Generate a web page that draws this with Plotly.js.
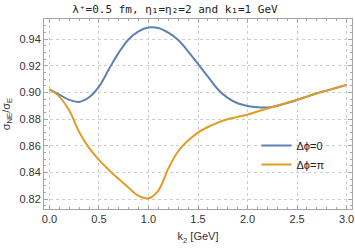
<!DOCTYPE html>
<html>
<head>
<meta charset="utf-8">
<script src="https://cdn.plot.ly/plotly-3.0.1.min.js"></script>
<style>html,body{margin:0;padding:0;background:#fff;}#chart{width:355px;height:249px;}</style>
</head>
<body>
<div id="chart"></div>
<script>
const k2 = [0.0,0.1,0.2,0.3,0.4,0.5,0.6,0.7,0.8,0.9,1.0,1.1,1.2,1.3,1.4,1.5,1.6,1.7,1.8,1.9,2.0,2.1,2.2,2.3,2.4,2.5,2.6,2.7,2.8,2.9,3.0];
const ratioPhi0 = [0.9025,0.8985,0.8945,0.8930,0.8965,0.9045,0.9175,0.9300,0.9400,0.9460,0.9488,0.9485,0.9450,0.9395,0.9310,0.9215,0.9120,0.9025,0.8960,0.8920,0.8900,0.8890,0.8888,0.8900,0.8922,0.8945,0.8970,0.8995,0.9015,0.9037,0.9058];
const ratioPhiPi = [0.9025,0.8970,0.8865,0.8705,0.8585,0.8495,0.8420,0.8352,0.8287,0.8225,0.8207,0.8265,0.8430,0.8560,0.8640,0.8700,0.8742,0.8775,0.8800,0.8818,0.8835,0.8858,0.8880,0.8903,0.8925,0.8947,0.8970,0.8995,0.9015,0.9037,0.9058];
const seriesNames = ['Δϕ=0','Δϕ=π'];
const xTicks = [0.0,0.5,1.0,1.5,2.0,2.5,3.0];
const yTicks = [0.82,0.84,0.86,0.88,0.90,0.92,0.94];

const colors = ['#5E81B5','#E19C24'];
const traces = [ratioPhi0, ratioPhiPi].map((y,i)=>({
  x: k2, y: y, type:'scatter', mode:'lines', name: seriesNames[i],
  line:{color:colors[i], width:2, shape:'spline', smoothing:1}
}));

const axisCommon = {
  showline:true, linecolor:'#a6a6a6', linewidth:1, mirror:'ticks',
  ticks:'inside', ticklen:4, tickcolor:'#a6a6a6', tickwidth:1,
  showgrid:true, gridcolor:'#cfcfcf', griddash:'dot', gridwidth:1,
  zeroline:false, tickfont:{family:'Liberation Sans, Arial, sans-serif', size:11, color:'#333'}
};

const layout = {
  width:355, height:249,
  margin:{l:44, r:3, t:19, b:40},
  paper_bgcolor:'#fff', plot_bgcolor:'#fff',
  showlegend:true,
  title:{text:'λ⁺=0.5 fm, η₁=η₂=2 and k₁=1 GeV', font:{family:'DejaVu Sans Mono, monospace', size:11, color:'#222'}, x:0.493, xanchor:'center', y:0.965, yanchor:'middle', yref:'container'},
  xaxis:Object.assign({}, axisCommon, {
    range:[-0.055,3.055], tickvals:xTicks, ticktext:xTicks.map(v=>v.toFixed(1)),
    minor:{dtick:0.1, tick0:0, ticks:'inside', ticklen:2, tickcolor:'#a6a6a6', showgrid:false},
    title:{text:'k<sub>2</sub> [GeV]', font:{family:'Liberation Sans, Arial, sans-serif', size:11, color:'#333'}, standoff:8}
  }),
  yaxis:Object.assign({}, axisCommon, {
    range:[0.8127,0.9552], tickvals:yTicks, ticktext:yTicks.map(v=>v.toFixed(2)),
    minor:{dtick:0.005, tick0:0.8, ticks:'inside', ticklen:2, tickcolor:'#a6a6a6', showgrid:false},
    title:{text:'σ<sub>NE</sub>/σ<sub>E</sub>', font:{family:'Liberation Sans, Arial, sans-serif', size:11, color:'#333'}, standoff:6}
  }),
  legend:{x:0.69, xanchor:'left', y:0.41, yanchor:'top', bgcolor:'rgba(255,255,255,0)', borderwidth:0,
    font:{family:'Liberation Sans, Arial, sans-serif', size:11, color:'#222'}, tracegroupgap:0, itemwidth:30}
};

Plotly.newPlot('chart', traces, layout, {staticPlot:true, displayModeBar:false});
</script>
</body>
</html>
